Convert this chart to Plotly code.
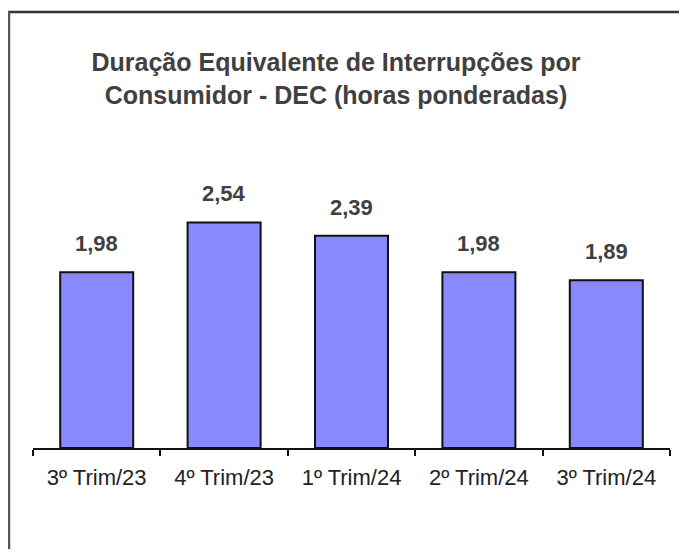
import plotly.graph_objects as go

categories = ["3º Trim/23", "4º Trim/23", "1º Trim/24", "2º Trim/24", "3º Trim/24"]
dec_values = [1.98, 2.54, 2.39, 1.98, 1.89]
value_labels = ["1,98", "2,54", "2,39", "1,98", "1,89"]
title_lines = ["Duração Equivalente de Interrupções por", "Consumidor - DEC (horas ponderadas)"]

# page has an 8px body margin; figure sized to fit inside the window
W, H = 671, 541
L, R, T, B = 25, 9, 142, 101

fig = go.Figure()
fig.add_trace(go.Bar(
    x=categories, y=dec_values,
    marker=dict(color="#8888FF", line=dict(color="#111111", width=2)),
    hoverinfo="skip",
))

for c, v, lab in zip(categories, dec_values, value_labels):
    fig.add_annotation(x=c, y=v, text=f"<b>{lab}</b>", showarrow=False,
                       yanchor="bottom", yshift=14,
                       font=dict(family="Liberation Sans, Arial, sans-serif", size=22, color="#404040"))

# frame (top and left edges visible)
pw = W - L - R
ph = H - T - B
def px(xp):
    return (xp - L) / pw
def py(yp):
    return (H - B - yp) / ph
fig.add_shape(type="line", xref="paper", yref="paper", x0=px(0), x1=px(W + 5), y0=py(4), y1=py(4),
              line=dict(color="#333333", width=2.5))
fig.add_shape(type="line", xref="paper", yref="paper", x0=px(1), x1=px(1), y0=py(3), y1=py(H + 5),
              line=dict(color="#555555", width=2.5))

fig.update_layout(
    width=W, height=H,
    margin=dict(l=L, r=R, t=T, b=B, autoexpand=False),
    paper_bgcolor="white", plot_bgcolor="white",
    showlegend=False,
    bargap=0.427,
    title=dict(text="<b>" + "<br>".join(title_lines) + "</b>",
               x=328 / W, xanchor="center", y=1 - 63 / H, yanchor="top",
               font=dict(family="Liberation Sans, Arial, sans-serif", size=25, color="#404040")),
    xaxis=dict(showline=True, linecolor="#111111", linewidth=2, automargin=False, tickangle=0,
               ticks="outside", tickson="boundaries", ticklen=6, tickwidth=1.5, tickcolor="#111111",
               ticklabelstandoff=9,
               tickfont=dict(family="Liberation Sans, Arial, sans-serif", size=22, color="#222222"),
               showgrid=False, fixedrange=True),
    yaxis=dict(range=[0, ph / 88.8], visible=False, showgrid=False, zeroline=False, fixedrange=True,
               automargin=False),
)

fig.write_html("out.html")
